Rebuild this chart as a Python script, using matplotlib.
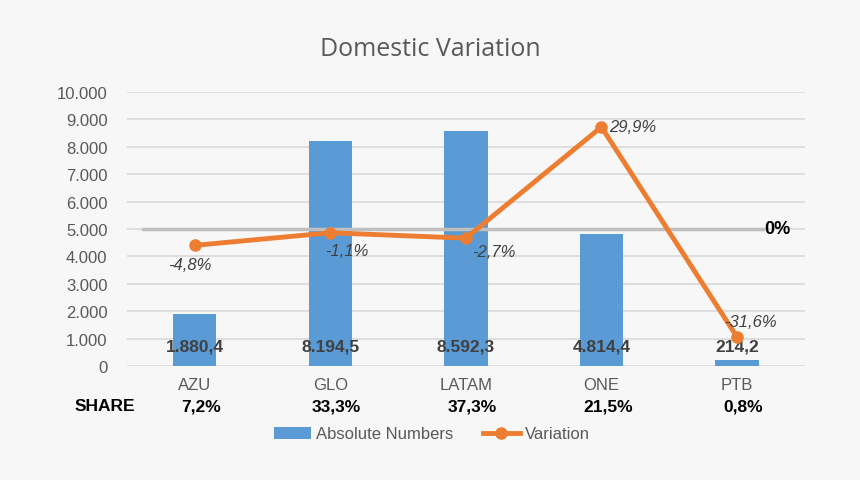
import numpy as np
import matplotlib
matplotlib.use("Agg")
import matplotlib.pyplot as plt
from matplotlib.lines import Line2D
from matplotlib.patches import Patch

# dados do grafico
airlines = ["AZU", "GLO", "LATAM", "ONE", "PTB"]
absolute = [1880.4, 8194.5, 8592.3, 4814.4, 214.2]
variation = [-4.8, -1.1, -2.7, 29.9, -31.6]
share = [7.2, 33.3, 37.3, 21.5, 0.8]

plt.rcParams['font.family'] = ['Liberation Sans', 'DejaVu Sans']

bg = "#f7f7f7"
blue = "#5b9bd5"
orange = "#ed7d31"
grey_txt = "#595959"
dark_txt = "#404040"


def br(v, dec=1):
    s = f"{v:,.{dec}f}"
    return s.replace(",", "X").replace(".", ",").replace("X", ".")


fig = plt.figure(figsize=(8.6, 4.81), dpi=100, facecolor=bg)
ax = fig.add_axes([0.1477, 0.237, 0.788, 0.5697])
ax.set_facecolor(bg)

x = np.arange(len(airlines))
ax.bar(x, absolute, width=0.32, color=blue, zorder=2)
ax.set_xlim(-0.5, 4.5)
ax.set_ylim(0, 10000)
ax.set_yticks(np.arange(0, 10001, 1000))
ax.set_yticklabels([br(v, 0) for v in np.arange(0, 10001, 1000)], color=grey_txt, fontsize=12)
ax.set_xticks(x)
ax.set_xticklabels(airlines, color=grey_txt, fontsize=12)
ax.tick_params(length=0, pad=8)
ax.tick_params(axis='y', pad=14)
ax.grid(axis='y', color="#d9d9d9", lw=1.2, zorder=0)
for s in ax.spines.values():
    s.set_visible(False)

for i, v in enumerate(absolute):
    ax.text(i, 730, br(v), ha='center', va='center', fontsize=12.5,
            fontweight='bold', color=dark_txt, zorder=4)

# eixo secundario (escondido)
ax2 = ax.twinx()
ax2.set_ylim(-40.16, 40.16)
ax2.axis('off')
ax2.axhline(0, xmin=0.024, xmax=0.938, color="#bfbfbf", lw=2.5, zorder=1)
ax2.text(4.2, 0, "0%", ha='left', va='center', fontsize=13, fontweight='bold', color='black')
ax2.plot(x, variation, color=orange, lw=3.5, marker='o', markersize=8, zorder=5)

offsets = [(-5, -19), (17, -18), (28, -13), (31, 0), (14, 15)]
for i, v in enumerate(variation):
    ax2.annotate(br(v) + "%", (i, v), xytext=offsets[i], textcoords='offset pixels',
                 ha='center', va='center', fontsize=12, style='italic', color=dark_txt,
                 zorder=7)

fig.text(0.5, 1 - 50 / 481, "Domestic Variation", ha='center', va='center',
         fontsize=18, color=grey_txt, family=['Open Sans', 'DejaVu Sans'])

# linha SHARE
fig.text(105 / 860, 1 - 407 / 481, "SHARE", ha='center', va='center',
         fontsize=12.5, fontweight='bold', color='black')
for i, s in enumerate(share):
    xp = (126.5 + 135.5 * (i + 0.5) + 7) / 860
    fig.text(xp, 1 - 407 / 481, br(s) + "%", ha='center', va='center',
             fontsize=12.5, fontweight='bold', color='black')

handles = [Patch(facecolor=blue, edgecolor='none'),
           Line2D([0], [0], color=orange, lw=3.5, marker='o', markersize=8)]
leg = fig.legend(handles, ["Absolute Numbers", "Variation"], loc='center',
                 bbox_to_anchor=(432 / 860, 1 - 435 / 481), ncol=2, frameon=False,
                 fontsize=12, handlelength=2.2, handletextpad=0.3, columnspacing=1.8)
for t in leg.get_texts():
    t.set_color(grey_txt)

fig.savefig("out.png", dpi=100, facecolor=bg)
